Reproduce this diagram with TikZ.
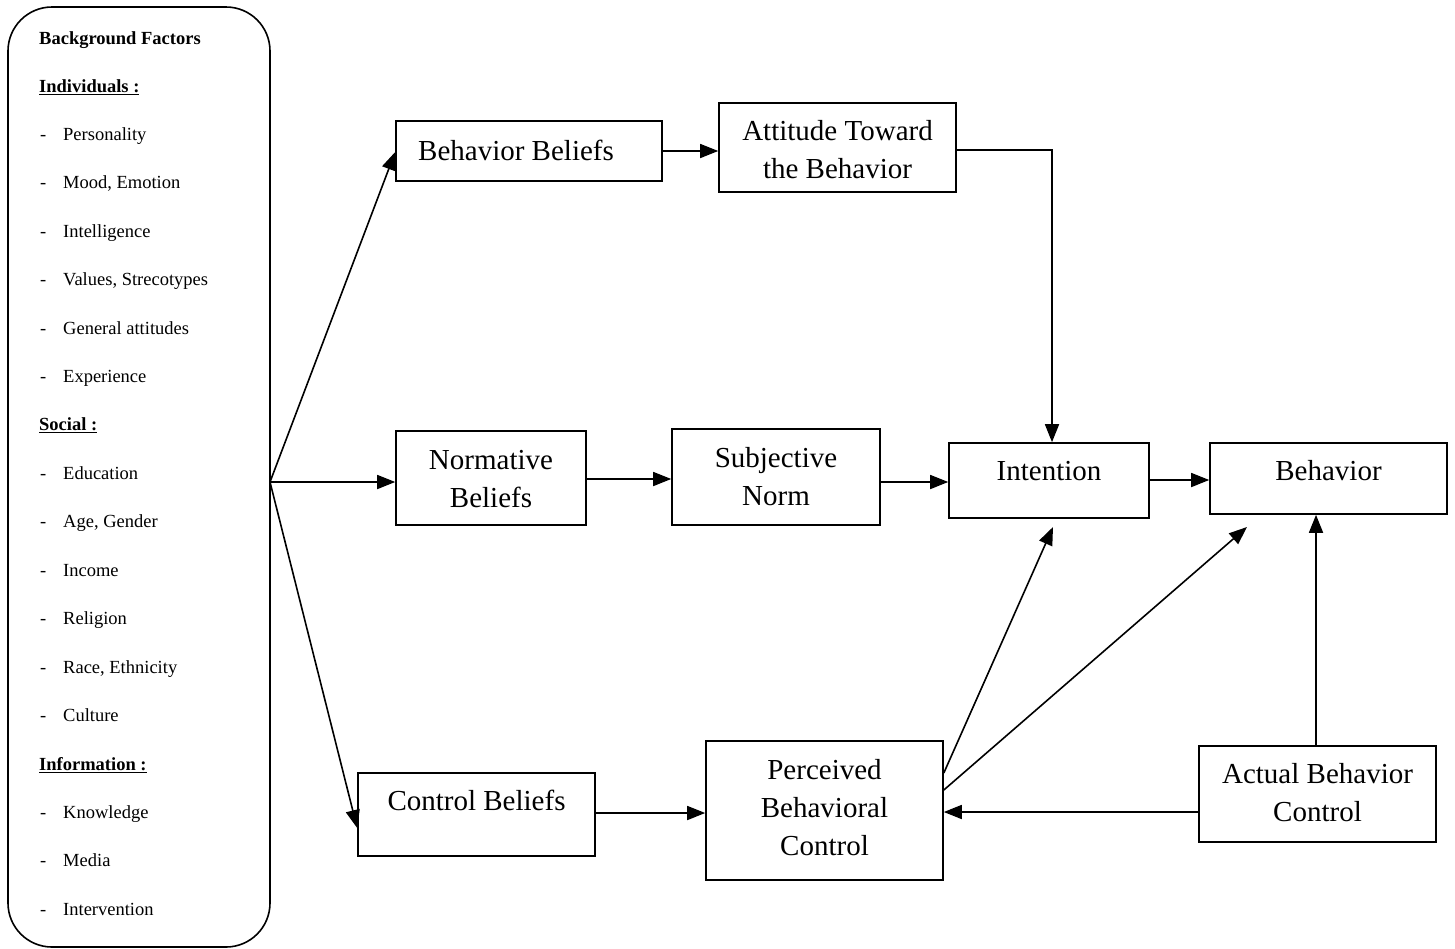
\documentclass[tikz,border=0pt]{standalone}
\usepackage{fontspec}
\setmainfont{Liberation Serif}
\usetikzlibrary{arrows.meta}
\tikzset{
  box/.style={draw, line width=1.6pt, inner sep=0pt},
  lbl/.style={inner sep=0pt, align=center, font=\fontsize{29}{38}\selectfont},
  side/.style={inner sep=0pt, anchor=west, text height=13pt, text depth=4pt, font=\fontsize{18.5}{22}\selectfont},
  conn/.style={line width=1.6pt, -{Triangle[length=18pt,width=14pt]}},
}
\begin{document}
\begin{tikzpicture}[x=1pt,y=-1pt]
\useasboundingbox (0,0) rectangle (1455,948);
% background factors box
\node[box, rounded corners=44pt, minimum width=262pt, minimum height=940pt] (bf) at (139,477) {};
\node[side, font=\fontsize{18.5}{22}\selectfont\bfseries] (t0) at (39,40) {Background Factors};
\node[side, font=\fontsize{18.5}{22}\selectfont\bfseries] (t1) at (39,88) {\underline{Individuals :}};
\foreach \y/\t [count=\i] in {136/Personality,184/{Mood, Emotion},233/Intelligence,281/{Values, Strecotypes},330/General attitudes,378/Experience}{
  \node[side] (da\i) at (40,\y) {-};
  \node[side] (ia\i) at (63,\y) {\t};
}
\node[side, font=\fontsize{18.5}{22}\selectfont\bfseries] (t2) at (39,426) {\underline{Social :}};
\foreach \y/\t [count=\i] in {475/Education,523/{Age, Gender},572/Income,620/Religion,669/{Race, Ethnicity},717/Culture}{
  \node[side] (db\i) at (40,\y) {-};
  \node[side] (ib\i) at (63,\y) {\t};
}
\node[side, font=\fontsize{18.5}{22}\selectfont\bfseries] (t3) at (39,766) {\underline{Information :}};
\foreach \y/\t [count=\i] in {814/Knowledge,862/Media,911/Intervention}{
  \node[side] (dc\i) at (40,\y) {-};
  \node[side] (ic\i) at (63,\y) {\t};
}
\coordinate (fan) at (270,482);

% boxes
\node[box, minimum width=266pt, minimum height=60pt] (bb) at (529,151) {};
\node[lbl] (bbt) at (516,150) {Behavior Beliefs};
\node[box, minimum width=237pt, minimum height=89pt] (att) at (837.5,147.5) {};
\node[lbl] (attt) at (837.5,150) {Attitude Toward\\the Behavior};
\node[box, minimum width=190pt, minimum height=94pt] (nb) at (491,478) {};
\node[lbl] (nbt) at (491,479) {Normative\\Beliefs};
\node[box, minimum width=208pt, minimum height=96pt] (sn) at (776,477) {};
\node[lbl] (snt) at (776,477) {Subjective\\Norm};
\node[box, minimum width=200pt, minimum height=75pt] (int) at (1049,480.5) {};
\node[lbl] (intt) at (1049,471) {Intention};
\node[box, minimum width=237pt, minimum height=71pt] (beh) at (1328.5,478.5) {};
\node[lbl] (beht) at (1328.5,471) {Behavior};
\node[box, minimum width=237pt, minimum height=83pt] (cb) at (476.5,814.5) {};
\node[lbl] (cbt) at (476.5,800) {Control Beliefs};
\node[box, minimum width=237pt, minimum height=139pt] (pbc) at (824.5,810.5) {};
\node[lbl] (pbct) at (824.5,808) {Perceived\\Behavioral\\Control};
\node[box, minimum width=237pt, minimum height=96pt] (abc) at (1317.5,794) {};
\node[lbl] (abct) at (1317.5,793) {Actual Behavior\\Control};

% connectors
\draw[conn] (fan) -- (bb.west |- 0,152);
\draw[conn] (fan) -- (nb.west |- fan);
\draw[conn] (fan) -- (cb.west |- 0,828);
\draw[conn] (bb.east) -- (att.west |- bb.east);
\draw[conn] (att.east |- 0,150) -| (int.north -| 1052,0);
\draw[conn] (nb.east |- 0,479) -- (sn.west |- 0,479);
\draw[conn] (sn.east |- 0,482) -- (int.west |- 0,482);
\draw[conn] (int.east |- 0,480) -- (beh.west |- 0,480);
\draw[conn] (cb.east |- 0,813) -- (pbc.west |- 0,813);
\draw[conn] (abc.west |- 0,812) -- (pbc.east |- 0,812);
\draw[conn] (abc.north -| 1316,0) -- (beh.south -| 1316,0);
\coordinate (pi) at (1053,527);
\coordinate (pb) at (1247,527);
\draw[conn] (pbc.east |- 0,773) -- (pi);
\draw[conn] (pbc.east |- 0,790) -- (pb);
\end{tikzpicture}
\end{document}
